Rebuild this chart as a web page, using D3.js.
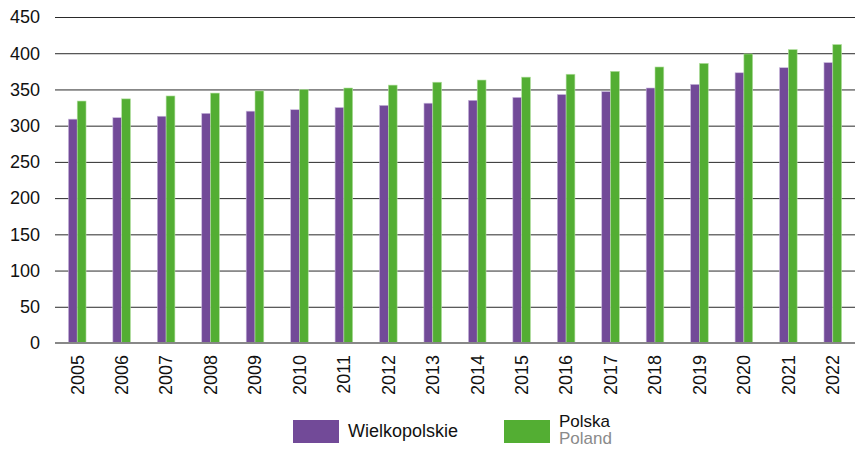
<!DOCTYPE html>
<html>
<head>
<meta charset="utf-8">
<script src="https://cdn.jsdelivr.net/npm/d3@7"></script>
<style>
  html, body { margin: 0; padding: 0; background: #fff; }
  svg { display: block; font-family: "Liberation Sans", Arial, sans-serif; }
</style>
</head>
<body>
<svg id="chart" width="855" height="449"></svg>
<script>
const years = ["2005","2006","2007","2008","2009","2010","2011","2012","2013","2014","2015","2016","2017","2018","2019","2020","2021","2022"];
const wielkopolskie = [309, 311, 313, 317, 320, 322, 325, 328, 331, 335, 339, 343, 347, 352, 357, 373, 380, 387];
const polska = [334, 337, 341, 345, 348, 350, 352, 356, 360, 363, 367, 371, 375, 381, 386, 399, 405, 412];
const yTicks = [0, 50, 100, 150, 200, 250, 300, 350, 400, 450];
const seriesNames = ["Wielkopolskie", "Polska"];
const seriesColors = ["#724A98", "#53AE33"];
const seriesEdge = ["#C9B8DD", "#B5E0A2"];

const svg = d3.select("#chart");
const mLeft = 55, mRight = 855, mTop = 17, mBottom = 343;

const x0 = d3.scaleBand().domain(years).range([mLeft, mRight]).paddingInner(0).paddingOuter(0);
const barW = 8.8;
const x1 = d3.scaleBand().domain(seriesNames)
  .range([x0.bandwidth() / 2 - barW, x0.bandwidth() / 2 + barW]).padding(0);
const y = d3.scaleLinear().domain([0, 450]).range([mBottom, mTop]);

// gridlines
svg.append("g").selectAll("line").data(yTicks.filter(d => d > 0)).join("line")
  .attr("x1", mLeft).attr("x2", mRight)
  .attr("y1", d => y(d) + 0.5).attr("y2", d => y(d) + 0.5)
  .attr("stroke", "#2a2a2a").attr("stroke-width", 1);

// y labels
svg.append("g").selectAll("text").data(yTicks).join("text")
  .attr("x", 40).attr("y", d => y(d)).attr("dy", "0.35em")
  .attr("text-anchor", "end").attr("font-size", 18).attr("fill", "#111")
  .text(d => d);

// bars
const data = years.map((yr, i) => ({ year: yr, values: [wielkopolskie[i], polska[i]] }));
const groups = svg.append("g").selectAll("g").data(data).join("g")
  .attr("transform", d => `translate(${x0(d.year)},0)`);
groups.selectAll("rect").data(d => d.values.map((v, j) => ({ v, j }))).join("rect")
  .attr("x", d => x1(seriesNames[d.j]))
  .attr("width", x1.bandwidth())
  .attr("y", d => y(d.v))
  .attr("height", d => y(0) - y(d.v))
  .attr("fill", d => seriesColors[d.j])
  .attr("stroke", d => seriesEdge[d.j]).attr("stroke-width", 0.6);

// zero axis
svg.append("line").attr("x1", mLeft).attr("x2", mRight)
  .attr("y1", y(0)).attr("y2", y(0))
  .attr("stroke", "#888").attr("stroke-width", 2);

// x labels
svg.append("g").selectAll("text").data(years).join("text")
  .attr("transform", d => `translate(${x0(d) + x0.bandwidth() / 2},${y(0) + 12}) rotate(-90)`)
  .attr("text-anchor", "end").attr("dy", "0.35em")
  .attr("font-size", 18).attr("fill", "#111")
  .text(d => d);

// legend
const leg = svg.append("g");
leg.append("rect").attr("x", 293).attr("y", 420).attr("width", 46).attr("height", 23).attr("fill", seriesColors[0]);
leg.append("text").attr("x", 348).attr("y", 437).attr("font-size", 18).attr("fill", "#111").text("Wielkopolskie");
leg.append("rect").attr("x", 504).attr("y", 420).attr("width", 46).attr("height", 23).attr("fill", seriesColors[1]);
leg.append("text").attr("x", 559).attr("y", 427).attr("font-size", 17).attr("fill", "#111").text("Polska");
leg.append("text").attr("x", 559).attr("y", 444).attr("font-size", 17).attr("fill", "#8a8a8a").text("Poland");
</script>
</body>
</html>
